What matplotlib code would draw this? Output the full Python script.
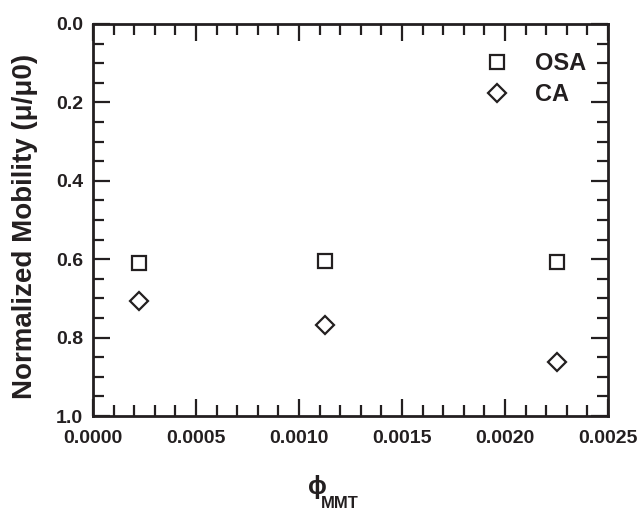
import matplotlib
matplotlib.use("Agg")
import matplotlib.pyplot as plt
from matplotlib.ticker import MultipleLocator, FormatStrFormatter


PHI_MMT = [0.000225, 0.001125, 0.00225]
OSA_MOBILITY = [0.610, 0.604, 0.607]
CA_MOBILITY = [0.707, 0.768, 0.862]

INK = "#231f20"

plt.rcParams["font.family"] = ["Liberation Sans", "DejaVu Sans"]
plt.rcParams["font.weight"] = "bold"


def make_plot():
    fig = plt.figure(figsize=(6.41, 5.09), dpi=100)
    ax = fig.add_axes([93 / 641, 1 - 416 / 509, 515 / 641, 392 / 509])

    ax.plot(PHI_MMT, OSA_MOBILITY, linestyle="none", marker="s", markersize=9.5,
            markerfacecolor="white", markeredgecolor=INK, markeredgewidth=1.6,
            label="OSA")
    ax.plot(PHI_MMT, CA_MOBILITY, linestyle="none", marker="D", markersize=9,
            markerfacecolor="white", markeredgecolor=INK, markeredgewidth=1.6,
            label="CA")

    ax.set_xlim(0, 0.0025)
    ax.set_ylim(1.0, 0.0)

    ax.xaxis.set_major_locator(MultipleLocator(0.0005))
    ax.xaxis.set_minor_locator(MultipleLocator(0.0001))
    ax.yaxis.set_major_locator(MultipleLocator(0.2))
    ax.yaxis.set_minor_locator(MultipleLocator(0.05))
    ax.xaxis.set_major_formatter(FormatStrFormatter("%.4f"))
    ax.yaxis.set_major_formatter(FormatStrFormatter("%.1f"))

    ax.tick_params(which="both", direction="in", top=True, right=True,
                   color=INK, width=1.6, labelsize=14, labelcolor=INK)
    ax.tick_params(which="major", length=12)
    ax.tick_params(axis="x", which="major", pad=10)
    ax.tick_params(axis="y", which="major", pad=7)
    ax.tick_params(which="minor", length=8)

    for spine in ax.spines.values():
        spine.set_linewidth(2)
        spine.set_color(INK)

    ax.set_ylabel("Normalized Mobility (\u03bc/\u03bc0)", fontsize=20,
                  fontweight="bold", color=INK)
    # label anchor is its right edge here
    ax.yaxis.set_label_coords(-(93 - 38) / 515, 1 - (226 - 24) / 392)

    # x label: phi with a subscript
    fig.text(317 / 641, 1 - 487 / 509, "\u03d5", fontsize=18, color=INK,
             ha="center", va="center", fontweight="bold")
    fig.text(321 / 641, 1 - 503 / 509, "MMT", fontsize=12, color=INK,
             ha="left", va="center", fontweight="bold")

    leg = ax.legend(loc="center left", frameon=False, fontsize=17,
                    handlelength=2, handletextpad=0.6, labelspacing=0.35,
                    borderpad=0, borderaxespad=0,
                    bbox_to_anchor=(0.7386, 0.8597))
    for t in leg.get_texts():
        t.set_color(INK)

    fig.savefig("out.png", dpi=100)
    plt.close(fig)


if __name__ == "__main__":
    make_plot()
